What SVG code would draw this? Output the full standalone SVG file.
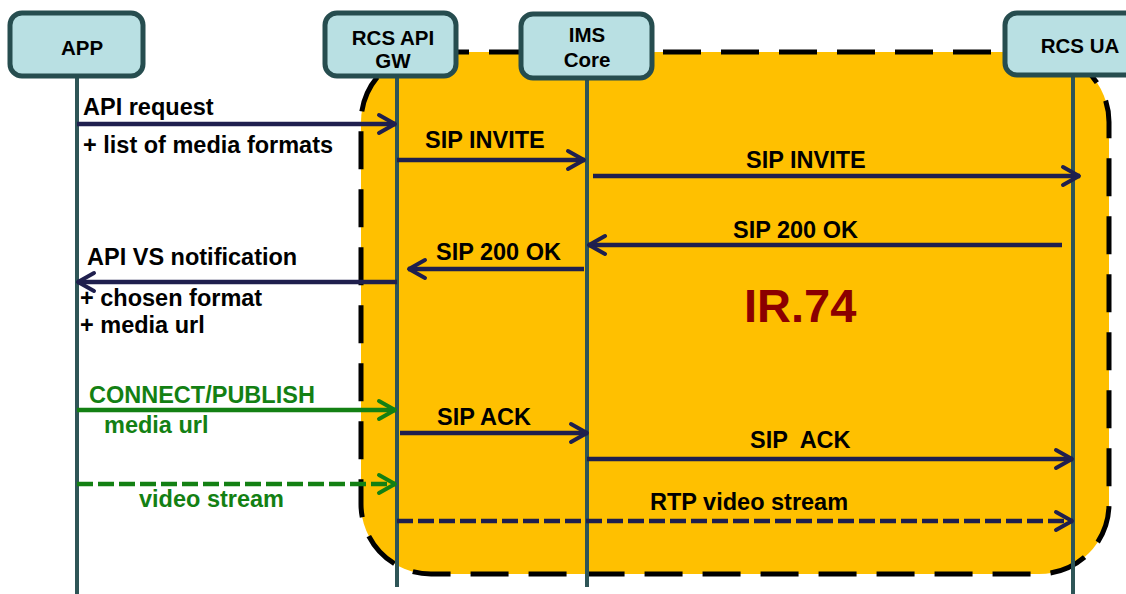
<svg xmlns="http://www.w3.org/2000/svg" width="1126" height="594" viewBox="0 0 1126 594">
<style>
.lbl{font-family:"Liberation Sans",Arial,sans-serif;font-weight:bold;font-size:23.5px;fill:#000;white-space:pre}
.g{fill:#138013}
.node rect{fill:#b9e0e3;stroke:#264d4f;stroke-width:5}
.node text{font-family:"Liberation Sans",Arial,sans-serif;font-weight:bold;font-size:20.5px;fill:#000;text-anchor:middle}
.life{stroke:#2e5557;stroke-width:4;fill:none}
.nv{stroke:#1f1f4e;stroke-width:4.5;fill:none;marker-end:url(#an)}
.gr{stroke:#138013;stroke-width:4.5;fill:none;marker-end:url(#ag)}
.dash{stroke-dasharray:16 5}
</style>
<defs>
<marker id="an" viewBox="0 0 24 24" refX="22" refY="12" markerWidth="24" markerHeight="24" markerUnits="userSpaceOnUse" orient="auto">
<path d="M5,3 L21,12 L5,21" fill="none" stroke="#1f1f4e" stroke-width="4" stroke-linecap="round" stroke-linejoin="round"/>
</marker>
<marker id="ag" viewBox="0 0 24 24" refX="22" refY="12" markerWidth="24" markerHeight="24" markerUnits="userSpaceOnUse" orient="auto">
<path d="M5,3 L21,12 L5,21" fill="none" stroke="#138013" stroke-width="4" stroke-linecap="round" stroke-linejoin="round"/>
</marker>
</defs>
<rect id="ir74-zone" x="361" y="52" width="748" height="522" rx="70" ry="70" fill="#ffc000" stroke="#000" stroke-width="5" stroke-dasharray="38 20"/>
<g id="lifelines">
<line class="life" x1="77" y1="76" x2="77" y2="594"/>
<line class="life" x1="397" y1="76" x2="397" y2="587"/>
<line class="life" x1="587" y1="78" x2="587" y2="587"/>
<line class="life" x1="1073" y1="75" x2="1073" y2="594"/>
</g>
<g id="connectors">
<line class="nv" x1="77" y1="124" x2="396" y2="124"/>
<line class="nv" x1="397" y1="160" x2="585" y2="160"/>
<line class="nv" x1="593" y1="176" x2="1080" y2="176"/>
<line class="nv" x1="1062" y1="245" x2="588" y2="245"/>
<line class="nv" x1="584" y1="269" x2="408" y2="269"/>
<line class="nv" x1="397" y1="282" x2="77" y2="282"/>
<line class="gr" x1="77" y1="410" x2="396" y2="410"/>
<line class="nv" x1="400" y1="433" x2="588" y2="433"/>
<line class="nv" x1="587" y1="459" x2="1073" y2="459"/>
<line class="gr dash" x1="77" y1="484" x2="396" y2="484"/>
<line class="nv dash" x1="397" y1="521" x2="1073" y2="521"/>
</g>
<g id="labels">
<text class="lbl" x="83" y="115">API request</text>
<text class="lbl" x="83" y="153">+ list of media formats</text>
<text class="lbl" x="425" y="148">SIP INVITE</text>
<text class="lbl" x="746" y="168">SIP INVITE</text>
<text class="lbl" x="733" y="238">SIP 200 OK</text>
<text class="lbl" x="436" y="260">SIP 200 OK</text>
<text class="lbl" x="87" y="265">API VS notification</text>
<text class="lbl" x="80" y="306">+ chosen format</text>
<text class="lbl" x="80" y="333">+ media url</text>
<text class="lbl" x="744" y="322" style="font-size:47px;fill:#8b0000">IR.74</text>
<text class="lbl g" x="89" y="403">CONNECT/PUBLISH</text>
<text class="lbl g" x="104" y="433">media url</text>
<text class="lbl" x="437" y="425">SIP ACK</text>
<text class="lbl" x="750" y="448">SIP  ACK</text>
<text class="lbl g" x="139" y="507">video stream</text>
<text class="lbl" x="650" y="510">RTP video stream</text>
</g>
<g id="node-app" class="node">
<rect x="10" y="13" width="133" height="63" rx="12"/>
<text x="82" y="55">APP</text>
</g>
<g id="node-gw" class="node">
<rect x="325" y="13" width="131" height="63" rx="12"/>
<text x="393" y="45">RCS API</text>
<text x="393" y="68">GW</text>
</g>
<g id="node-ims" class="node">
<rect x="521" y="14" width="131" height="64" rx="12"/>
<text x="587" y="42">IMS</text>
<text x="587" y="67">Core</text>
</g>
<g id="node-ua" class="node">
<rect x="1005" y="13" width="135" height="62" rx="12"/>
<text x="1080" y="53">RCS UA</text>
</g>
</svg>
